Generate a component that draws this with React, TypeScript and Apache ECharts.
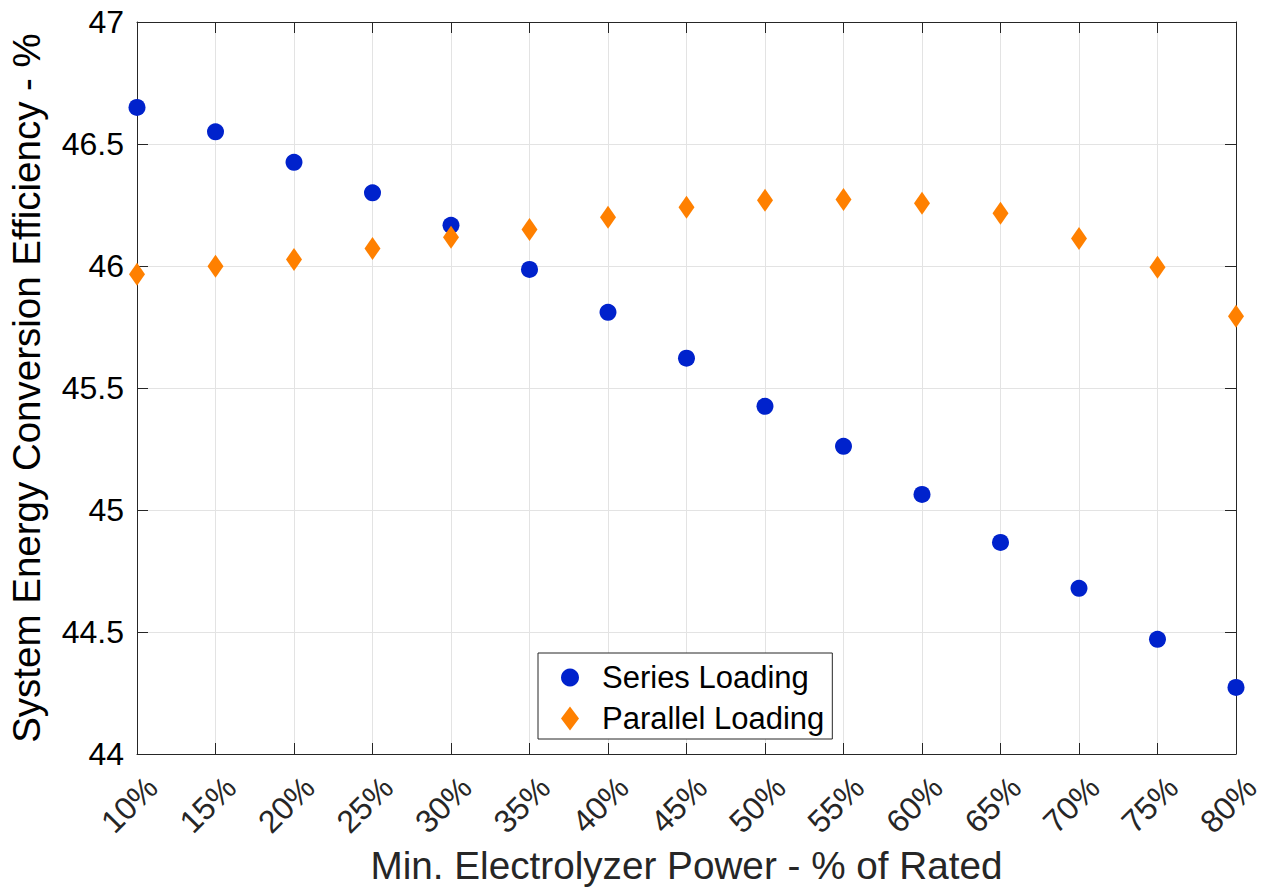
import React, { useEffect, useRef } from "react";
import * as echarts from "echarts";

const categories = ["10%", "15%", "20%", "25%", "30%", "35%", "40%", "45%", "50%", "55%", "60%", "65%", "70%", "75%", "80%"];
const seriesLoading = [46.65, 46.55, 46.425, 46.3, 46.167, 45.986, 45.81, 45.622, 45.425, 45.261, 45.064, 44.867, 44.679, 44.47, 44.273];
const parallelLoading = [45.966, 45.999, 46.027, 46.072, 46.118, 46.15, 46.2, 46.241, 46.269, 46.273, 46.257, 46.216, 46.113, 45.995, 45.794];
const yMin = 44;
const yMax = 47;
const yInterval = 0.5;

const FONT = "'Liberation Sans', Arial, Helvetica, sans-serif";
const AX = "#262626";
const GRIDC = "#E3E3E3";

export default function App() {
  const ref = useRef<HTMLDivElement>(null);
  useEffect(() => {
    if (!ref.current) return;
    const chart = echarts.init(ref.current, null, { renderer: "svg" });
    const grid0 = { left: 137, right: 34, top: 22, bottom: 141, containLabel: false, outerBoundsMode: "none" };
    const grid1 = { left: 152, right: 19, top: 22, bottom: 141, containLabel: false, outerBoundsMode: "none" };
    chart.setOption({
      animation: false,
      backgroundColor: "#ffffff",
      textStyle: { fontFamily: FONT },
      grid: [grid0, grid1],
      xAxis: [
        {
          type: "category",
          gridIndex: 0,
          data: categories,
          boundaryGap: false,
          position: "bottom",
          axisLine: { show: true, lineStyle: { color: AX, width: 1 } },
          axisTick: { show: true, inside: true, length: 11, lineStyle: { color: AX } },
          axisLabel: { show: false },
          splitLine: { show: true, lineStyle: { color: GRIDC, width: 1 } },
          name: "Min. Electrolyzer Power - % of Rated",
          nameLocation: "middle",
          nameGap: 92,
          nameTextStyle: { fontSize: 38.7, color: AX, fontFamily: FONT },
        },
        {
          type: "category",
          gridIndex: 0,
          data: categories,
          boundaryGap: false,
          position: "top",
          axisLine: { show: true, lineStyle: { color: AX, width: 1 } },
          axisTick: { show: true, inside: true, length: 11, lineStyle: { color: AX } },
          axisLabel: { show: false },
          splitLine: { show: false },
        },
        {
          type: "category",
          gridIndex: 1,
          data: categories,
          boundaryGap: false,
          position: "bottom",
          axisLine: { show: false },
          axisTick: { show: false },
          splitLine: { show: false },
          axisLabel: {
            show: true,
            interval: 0,
            rotate: 45,
            margin: 28,
            fontSize: 32,
            color: AX,
            fontFamily: FONT,
          },
        },
      ],
      yAxis: [
        {
          type: "value",
          gridIndex: 0,
          min: yMin,
          max: yMax,
          interval: yInterval,
          position: "left",
          axisLine: { show: true, lineStyle: { color: AX, width: 1 } },
          axisTick: { show: true, inside: true, length: 11, lineStyle: { color: AX } },
          axisLabel: { fontSize: 32, color: "#000", margin: 13, fontFamily: FONT },
          splitLine: { show: true, lineStyle: { color: GRIDC, width: 1 } },
          name: "System Energy Conversion Efficiency - %",
          nameLocation: "middle",
          nameGap: 91,
          nameTextStyle: { fontSize: 38.5, color: "#000", fontFamily: FONT },
        },
        {
          type: "value",
          gridIndex: 0,
          min: yMin,
          max: yMax,
          interval: yInterval,
          position: "right",
          axisLine: { show: true, lineStyle: { color: AX, width: 1 } },
          axisTick: { show: true, inside: true, length: 11, lineStyle: { color: AX } },
          axisLabel: { show: false },
          splitLine: { show: false },
        },
        {
          type: "value",
          gridIndex: 1,
          min: yMin,
          max: yMax,
          show: false,
        },
      ],
      legend: {
        orient: "vertical",
        left: 538,
        top: 653,
        padding: [9, 8, 5, 23],
        itemGap: 10,
        itemWidth: 18,
        itemHeight: 24,
        borderColor: AX,
        borderWidth: 1,
        backgroundColor: "#ffffff",
        borderRadius: 0,
        textStyle: { fontSize: 31, color: "#000", fontFamily: FONT, padding: [0, 0, 0, 18] },
        data: [
          { name: "Series Loading", icon: "circle" },
          { name: "Parallel Loading", icon: "diamond" },
        ],
      },
      series: [
        {
          name: "Series Loading",
          type: "scatter",
          xAxisIndex: 0,
          yAxisIndex: 0,
          symbol: "circle",
          symbolSize: 17,
          itemStyle: { color: "#0022CC", opacity: 1 },
          data: seriesLoading,
          z: 3,
        },
        {
          name: "Parallel Loading",
          type: "scatter",
          xAxisIndex: 0,
          yAxisIndex: 0,
          symbol: "diamond",
          symbolSize: [16, 23],
          itemStyle: { color: "#FF8000", opacity: 1 },
          data: parallelLoading,
          z: 3,
        },
      ],
    });
    return () => chart.dispose();
  }, []);
  return (
    <div
      ref={ref}
      style={{ position: "fixed", left: 0, top: 0, width: 1270, height: 895, background: "#fff" }}
    />
  );
}
